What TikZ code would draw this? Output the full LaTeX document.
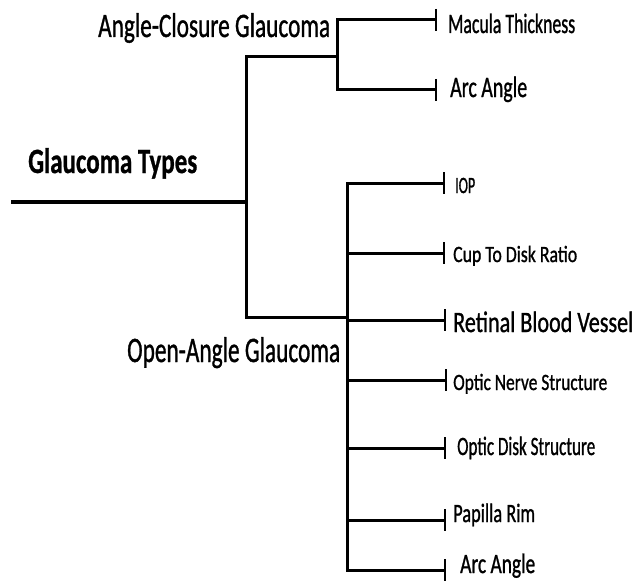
\documentclass[tikz,border=0pt]{standalone}
\usepackage{fontspec}
\setmainfont{Carlito}
\newfontfamily\hv{Carlito}[FakeBold=1.2]
\newfontfamily\hvb{Carlito Bold}[FakeBold=1.0]
\usepackage{graphicx}
\usetikzlibrary{arrows.meta}
\newcommand{\fitlbl}[3]{\resizebox{#1pt}{#2pt}{\vphantom{H}\smash{#3}}}
\tikzset{
  lbl/.style={inner sep=0pt, anchor=base west, text=black, font=\hv},
  br/.style={line width=3pt, line cap=rect},
  tk/.style={line width=3pt, -{Bar[width=22pt,line width=2pt]}},
}
\begin{document}
\begin{tikzpicture}[x=1pt,y=-1pt]
\useasboundingbox (0,0) rectangle (644,583);
% labels
\node[lbl, font=\hvb] (gt) at (28,173) {\fitlbl{169}{23}{Glaucoma Types}};
\node[lbl] (acg) at (98,37) {\fitlbl{232}{22}{Angle-Closure Glaucoma}};
\node[lbl] (oag) at (127,362) {\fitlbl{213}{23}{Open-Angle Glaucoma}};
\node[lbl] (mac) at (448,33) {\fitlbl{127}{18}{Macula Thickness}};
\node[lbl] (arc1) at (450,97) {\fitlbl{77}{19}{Arc Angle}};
\node[lbl] (iop) at (455,193) {\fitlbl{20}{15}{IOP}};
\node[lbl] (cup) at (453,262) {\fitlbl{124}{15}{Cup To Disk Ratio}};
\node[lbl] (ret) at (453,332) {\fitlbl{180}{19}{Retinal Blood Vessel}};
\node[lbl] (onv) at (453,390) {\fitlbl{154}{15}{Optic Nerve Structure}};
\node[lbl] (ods) at (457,455) {\fitlbl{138}{17}{Optic Disk Structure}};
\node[lbl] (pap) at (453,522) {\fitlbl{82}{17}{Papilla Rim}};
\node[lbl] (arc2) at (460,573) {\fitlbl{75}{18}{Arc Angle}};
% junction coordinates
\coordinate (r0) at (13,202);
\coordinate (j0) at (246,202);
\coordinate (acj) at (246,57);
\coordinate (oaj) at (246,317);
\coordinate (ac) at (337,57);
\coordinate (acT) at (337,20);
\coordinate (acB) at (337,90);
\coordinate (oa) at (347,317);
\coordinate (o1) at (347,183);
\coordinate (o2) at (347,253);
\coordinate (o3) at (347,320);
\coordinate (o4) at (347,380);
\coordinate (o5) at (347,448);
\coordinate (o6) at (347,520);
\coordinate (o7) at (347,570);
% tick ends
\coordinate (tmac) at (437,20);
\coordinate (tarc1) at (437,90);
\coordinate (tiop) at (445,183);
\coordinate (tcup) at (445,253);
\coordinate (tret) at (446,320);
\coordinate (tonv) at (447,380);
\coordinate (tods) at (446,448);
\coordinate (tpap) at (446,520);
\coordinate (tarc2) at (446,570);
% connectors
\draw[br, line width=3.4pt] (r0) -- (j0);
\draw[br] (acj) -- (oaj);
\draw[br] (acj) -- (ac);
\draw[br] (acT) -- (acB);
\draw[tk] (acT) -- (tmac);
\draw[tk] (acB) -- (tarc1);
\draw[br] (oaj) -- (oa);
\draw[br] (o1) -- (o7);
\draw[tk] (o1) -- (tiop);
\draw[tk] (o2) -- (tcup);
\draw[tk] (o3) -- (tret);
\draw[tk] (o4) -- (tonv);
\draw[tk] (o5) -- (tods);
\draw[tk] (o6) -- (tpap);
\draw[tk] (o7) -- (tarc2);
\end{tikzpicture}
\end{document}
